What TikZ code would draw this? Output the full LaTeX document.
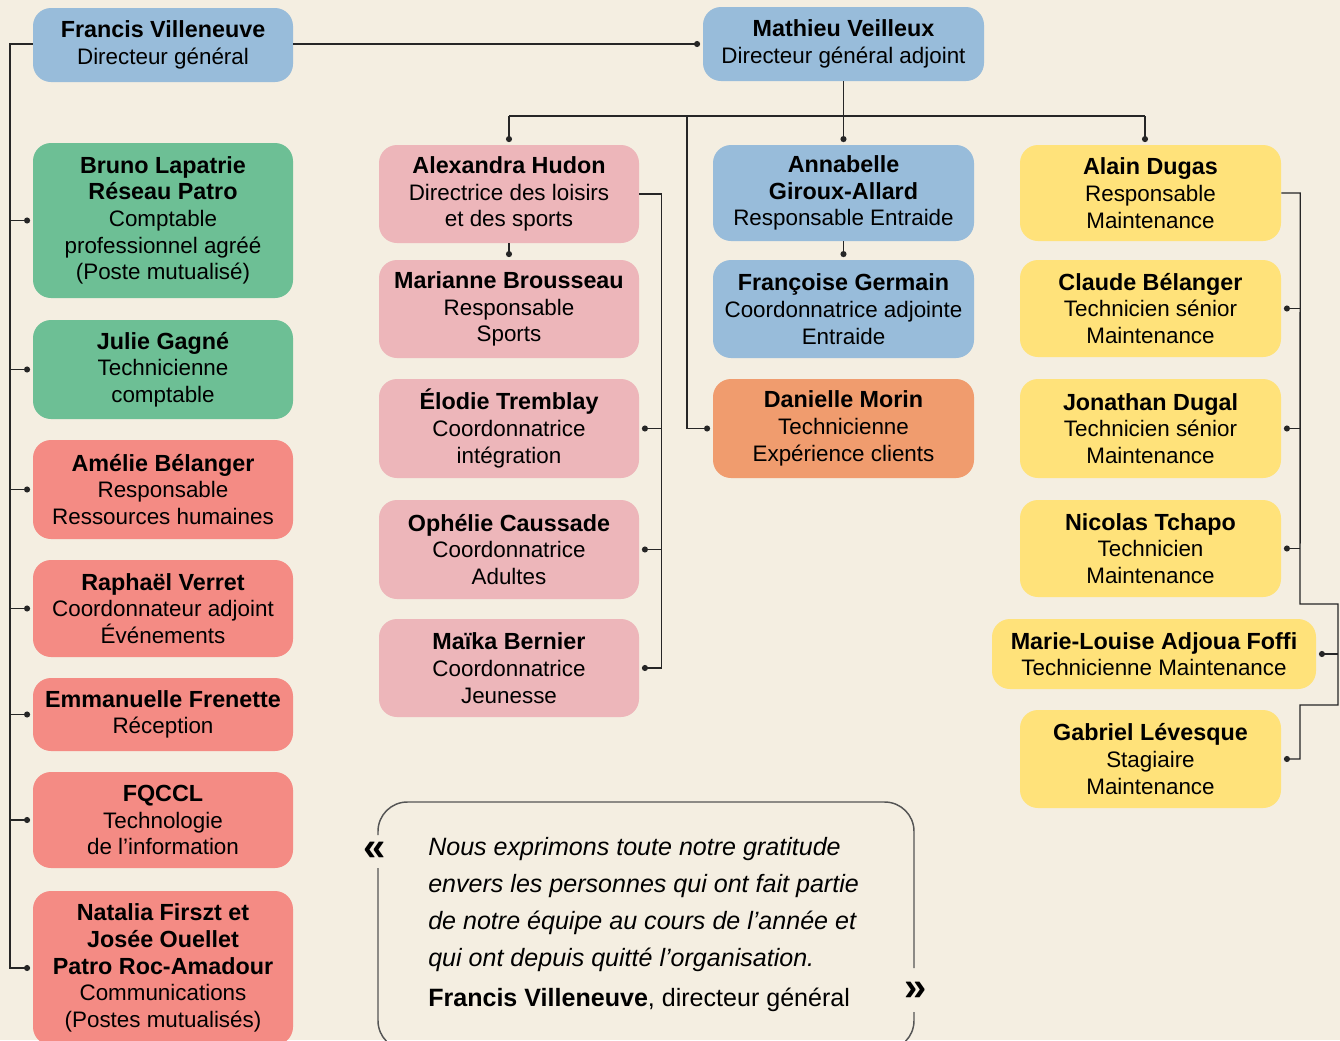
\documentclass[tikz,border=0pt]{standalone}
\usepackage{fontspec}
\setmainfont{Liberation Sans}
\usetikzlibrary{arrows.meta}
\definecolor{bgc}{HTML}{F4EEE1}
\definecolor{cblue}{HTML}{98BCDA}
\definecolor{cgreen}{HTML}{6DBF95}
\definecolor{csalmon}{HTML}{F48B84}
\definecolor{cpink}{HTML}{EDB6BA}
\definecolor{corange}{HTML}{F09C6E}
\definecolor{cyellow}{HTML}{FFE27A}
\definecolor{linec}{HTML}{262626}
\definecolor{qline}{HTML}{555555}
\newcommand{\pname}[1]{{\fontsize{17.5}{20}\selectfont\bfseries #1}}
\tikzset{
  card/.style={rounded corners=13.5pt, inner sep=0pt, align=center, text=black,
    minimum width=195pt, font=\fontsize{16.8}{20}\selectfont},
  conn/.style={draw=linec, line width=1.05pt},
  dot/.style={-{Circle[length=4.5pt]}, shorten >=2pt},
  qtext/.style={anchor=base west, inner sep=0pt, font=\fontsize{18.8}{22}\selectfont},
  guil/.style={inner sep=0pt, font=\fontsize{30}{30}\selectfont\bfseries}
}
\begin{document}
\begin{tikzpicture}[x=0.75pt,y=-0.75pt]
\fill[bgc] (0,0) rectangle (1340,1040);
\useasboundingbox (0,0) rectangle (1340,1040);

% top
\node[card, fill=cblue, minimum height=55.5pt] (fv) at (163,45) {\pname{Francis Villeneuve}\\Directeur général};
\node[card, fill=cblue, minimum height=55.5pt, minimum width=210.75pt] (mv) at (843.5,44) {\pname{Mathieu Veilleux}\\Directeur général adjoint};

% left column
\node[card, fill=cgreen, minimum height=116.25pt] (bl) at (163,220.5) {\pname{Bruno Lapatrie}\\\pname{Réseau Patro}\\Comptable\\professionnel agréé\\(Poste mutualisé)};
\node[card, fill=cgreen, minimum height=74.25pt] (jg) at (163,369.5) {\pname{Julie Gagné}\\Technicienne\\comptable};
\node[card, fill=csalmon, minimum height=74.25pt] (ab) at (163,489.5) {\pname{Amélie Bélanger}\\Responsable\\Ressources humaines};
\node[card, fill=csalmon, minimum height=72.75pt] (rv) at (163,608.5) {\pname{Raphaël Verret}\\Coordonnateur adjoint\\Événements};
\node[card, fill=csalmon, minimum height=54.75pt] (ef) at (163,714.5) {\pname{Emmanuelle Frenette}\\Réception};
\node[card, fill=csalmon, minimum height=72pt] (fq) at (163,820) {\pname{FQCCL}\\Technologie\\de l’information};
\node[card, fill=csalmon, minimum height=115.5pt] (nf) at (163,968) {\pname{Natalia Firszt et}\\\pname{Josée Ouellet}\\\pname{Patro Roc-Amadour}\\Communications\\(Postes mutualisés)};

% column 2
\node[card, fill=cpink, minimum height=73.5pt] (ah) at (509,194) {\pname{Alexandra Hudon}\\Directrice des loisirs\\et des sports};
\node[card, fill=cpink, minimum height=73.5pt] (mb) at (509,309) {\pname{Marianne Brousseau}\\Responsable\\Sports};
\node[card, fill=cpink, minimum height=74.25pt] (et) at (509,428.5) {\pname{Élodie Tremblay}\\Coordonnatrice\\intégration};
\node[card, fill=cpink, minimum height=74.25pt] (oc) at (509,549.5) {\pname{Ophélie Caussade}\\Coordonnatrice\\Adultes};
\node[card, fill=cpink, minimum height=73.5pt] (mk) at (509,668) {\pname{Maïka Bernier}\\Coordonnatrice\\Jeunesse};

% column 3
\node[card, fill=cblue, minimum height=72pt, minimum width=195.75pt] (an) at (843.5,193) {\pname{Annabelle}\\\pname{Giroux-Allard}\\Responsable Entraide};
\node[card, fill=cblue, minimum height=73.5pt, minimum width=195.75pt] (fg) at (843.5,309) {\pname{Françoise Germain}\\Coordonnatrice adjointe\\Entraide};
\node[card, fill=corange, minimum height=74.25pt, minimum width=195.75pt] (dm) at (843.5,428.5) {\pname{Danielle Morin}\\Technicienne\\Expérience clients};

% column 4
\node[card, fill=cyellow, minimum height=72pt, minimum width=195.75pt] (ad) at (1150.5,193) {\pname{Alain Dugas}\\Responsable\\Maintenance};
\node[card, fill=cyellow, minimum height=72.75pt, minimum width=195.75pt] (cb) at (1150.5,308.5) {\pname{Claude Bélanger}\\Technicien sénior\\Maintenance};
\node[card, fill=cyellow, minimum height=74.25pt, minimum width=195.75pt] (jd) at (1150.5,428.5) {\pname{Jonathan Dugal}\\Technicien sénior\\Maintenance};
\node[card, fill=cyellow, minimum height=72.75pt, minimum width=195.75pt] (nt) at (1150.5,548.5) {\pname{Nicolas Tchapo}\\Technicien\\Maintenance};
\node[card, fill=cyellow, minimum height=52.5pt, minimum width=243pt] (ml) at (1154,654) {\pname{Marie-Louise Adjoua Foffi}\\Technicienne Maintenance};
\node[card, fill=cyellow, minimum height=73.5pt, minimum width=195.75pt] (gl) at (1150.5,759) {\pname{Gabriel Lévesque}\\Stagiaire\\Maintenance};

% connectors: left trunk
\coordinate (lt) at (10,44);
\draw[conn,dot] (fv.west |- lt) -- (lt) |- (nf.west);
\foreach \n in {bl,jg,ab,rv,ef,fq}{
  \draw[conn,dot] (lt |- \n.west) -- (\n.west);
}
% top link
\draw[conn,dot] (fv.east |- mv.west) -- (mv.west);
% Mathieu bus
\coordinate (hb) at (843.5,116);
\coordinate (hL) at (509,116);
\coordinate (hR) at (1145,116);
\coordinate (hD) at (687,116);
\draw[conn] (mv.south) -- (hb);
\draw[conn] (hL) -- (hR);
\draw[conn,dot] (hL) -- (ah.north);
\draw[conn,dot] (hb) -- (an.north);
\draw[conn,dot] (hR) -- (hR |- ad.north);
\draw[conn,dot] (hD) |- (dm.west);
% short links
\draw[conn,dot] (ah.south) -- (mb.north);
\draw[conn,dot] (an.south) -- (fg.north);
% column 2 bus
\coordinate (c2) at ([xshift=16.5pt]ah.east);
\draw[conn,dot] (ah.east) -- (c2) |- (mk.east);
\foreach \n in {et,oc}{
  \draw[conn,dot] (c2 |- \n.east) -- (\n.east);
}
% column 4 bus
\coordinate (c4) at ([xshift=14.25pt]ad.east);
\coordinate (c4b) at (1300,604);
\coordinate (c4c) at (1338,604);
\coordinate (c4d) at (1338,705);
\coordinate (c4e) at (1300,705);
\draw[conn,dot] (ad.east) -- (c4) -- (c4b) -- (c4c) -- (c4d) -- (c4e) |- (gl.east);
\foreach \n in {cb,jd,nt}{
  \draw[conn,dot] (c4 |- \n.east) -- (\n.east);
}
\draw[conn,dot] (c4c |- ml.east) -- (ml.east);

% quote box
\draw[draw=qline, line width=1.1pt, rounded corners=22pt] (378,835) -- (378,802) -- (914,802) -- (914,968);
\draw[draw=qline, line width=1.1pt, rounded corners=22pt] (914,1012) -- (914,1050) -- (378,1050) -- (378,868);
\node[guil] (gq1) at (375,851) {«};
\node[guil] (gq2) at (916,991) {»};
\node[qtext] (q1) at (428,855) {\itshape Nous exprimons toute notre gratitude};
\node[qtext] (q2) at (428,892) {\itshape envers les personnes qui ont fait partie};
\node[qtext] (q3) at (428,929) {\itshape de notre équipe au cours de l’année et};
\node[qtext] (q4) at (428,966) {\itshape qui ont depuis quitté l’organisation.};
\node[qtext] (q5) at (428,1006) {\textbf{Francis Villeneuve}, directeur général};
\end{tikzpicture}
\end{document}
